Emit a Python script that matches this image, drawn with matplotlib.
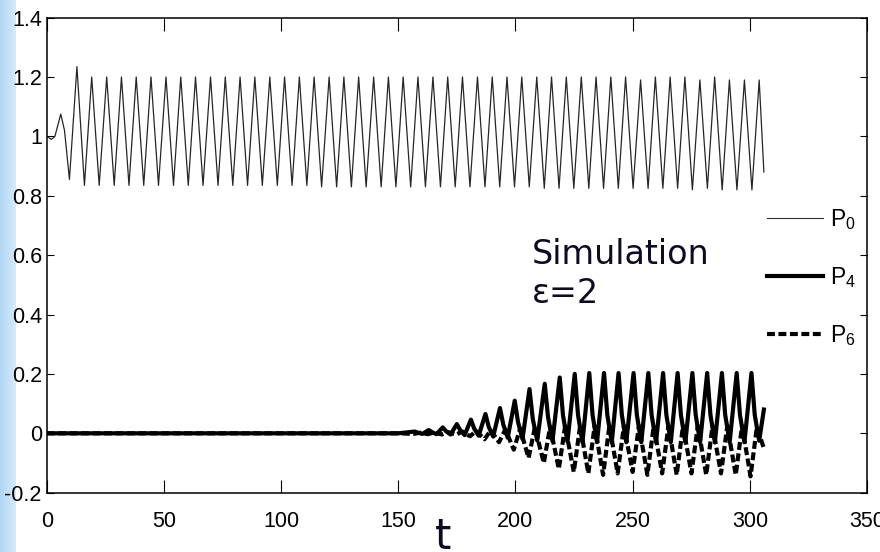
import numpy as np
import matplotlib
matplotlib.use("Agg")
import matplotlib.pyplot as plt
from matplotlib.lines import Line2D
from matplotlib.colors import LinearSegmentedColormap

# ---------------- data ----------------
# P0: start, then alternating peaks / troughs
p0_start_t = [0.0, 2.0, 3.5, 6.0, 7.6, 9.7]
p0_start_v = [1.0, 0.99, 1.0, 1.075, 1.02, 0.855]

p0_peak_t = [12.9, 19.2, 25.6, 31.9, 38.2, 44.5, 50.9, 57.2, 63.5, 69.9,
             76.2, 82.5, 88.8, 95.2, 101.5, 107.8, 114.1, 120.5, 126.8, 133.1,
             139.5, 145.8, 152.1, 158.4, 164.8, 171.1, 177.4, 183.8, 190.1, 196.4,
             202.7, 209.1, 215.4, 221.7, 228.1, 234.4, 240.7, 247.0, 253.4, 259.7,
             266.0, 272.3, 278.7, 285.0, 291.3, 297.7, 304.0]
p0_peak_v = [1.235, 1.20, 1.20, 1.20, 1.20, 1.20, 1.20, 1.20, 1.20, 1.20,
             1.20, 1.20, 1.20, 1.20, 1.20, 1.20, 1.20, 1.20, 1.20, 1.20,
             1.20, 1.20, 1.20, 1.20, 1.20, 1.20, 1.20, 1.20, 1.20, 1.20,
             1.20, 1.20, 1.20, 1.20, 1.20, 1.20, 1.20, 1.20, 1.19, 1.20,
             1.20, 1.20, 1.19, 1.20, 1.19, 1.19, 1.19]
p0_trough_t = [16.1, 22.4, 28.8, 35.1, 41.4, 47.7, 54.1, 60.4, 66.7, 73.1,
               79.4, 85.7, 92.0, 98.4, 104.7, 111.0, 117.3, 123.7, 130.0, 136.3,
               142.7, 149.0, 155.3, 161.6, 168.0, 174.3, 180.6, 187.0, 193.3, 199.6,
               205.9, 212.3, 218.6, 224.9, 231.3, 237.6, 243.9, 250.2, 256.6, 262.9,
               269.2, 275.5, 281.9, 288.2, 294.5, 300.9]
p0_trough_v = [0.835, 0.835, 0.835, 0.835, 0.835, 0.835, 0.835, 0.835, 0.835, 0.835,
               0.835, 0.835, 0.835, 0.835, 0.835, 0.835, 0.83, 0.83, 0.83, 0.83,
               0.83, 0.83, 0.83, 0.83, 0.83, 0.83, 0.83, 0.83, 0.83, 0.83,
               0.83, 0.825, 0.825, 0.825, 0.825, 0.825, 0.825, 0.825, 0.825, 0.825,
               0.825, 0.82, 0.825, 0.82, 0.82, 0.82]
p0_end_t = [306.0]
p0_end_v = [0.88]

# P4: flat, then peak / shoulder / trough per cycle
p4_flat_t = [0.0, 150.0]
p4_flat_v = [0.0, 0.0]
p4_peak_t = [157.0, 163.0, 169.0, 175.0, 181.0, 187.2, 193.4, 199.7, 206.0, 212.5,
             218.9, 225.3, 231.5, 237.8, 244.0, 250.4, 256.7, 263.0, 269.2, 275.5,
             281.8, 288.1, 294.4, 300.7]
p4_peak_v = [0.006, 0.011, 0.020, 0.031, 0.046, 0.065, 0.085, 0.110, 0.149, 0.167,
             0.188, 0.200, 0.203, 0.203, 0.203, 0.203, 0.203, 0.203, 0.203, 0.203,
             0.203, 0.203, 0.203, 0.203]
p4_shoulder_t = [158.4, 164.4, 170.4, 176.4, 182.4, 188.6, 194.8, 201.1, 207.4, 213.9,
                 220.3, 226.7, 232.9, 239.2, 245.4, 251.8, 258.1, 264.4, 270.6, 276.9,
                 283.2, 289.5, 295.8, 302.1]
p4_shoulder_v = [0.002, 0.004, 0.007, 0.011, 0.016, 0.022, 0.030, 0.038, 0.048, 0.055,
                 0.060, 0.062, 0.062, 0.062, 0.062, 0.062, 0.062, 0.062, 0.062, 0.062,
                 0.062, 0.062, 0.062, 0.062]
p4_trough_t = [160.3, 166.3, 172.3, 178.3, 184.3, 190.5, 196.7, 203.0, 209.3, 215.8,
               222.2, 228.6, 234.8, 241.1, 247.3, 253.7, 260.0, 266.3, 272.5, 278.8,
               285.1, 291.4, 297.7, 304.0]
p4_trough_v = [-0.002, -0.003, -0.004, -0.006, -0.008, -0.011, -0.015, -0.019, -0.024, -0.026,
               -0.028, -0.03, -0.03, -0.03, -0.03, -0.03, -0.03, -0.03, -0.03, -0.03,
               -0.03, -0.03, -0.03, -0.025]
p4_end_t = [306.0]
p4_end_v = [0.08]

# P6: flat, then minimum / maximum per cycle
p6_flat_t = [0.0, 150.0]
p6_flat_v = [0.0, 0.0]
p6_min_t = [156.6, 162.6, 168.6, 174.6, 180.6, 186.8, 193.0, 199.3, 205.6, 212.1,
            218.5, 224.9, 231.1, 237.4, 243.6, 250.0, 256.3, 262.6, 268.8, 275.1,
            281.4, 287.7, 294.0, 300.3]
p6_min_v = [-0.002, -0.003, -0.004, -0.005, -0.010, -0.020, -0.030, -0.055, -0.083, -0.100,
            -0.120, -0.130, -0.135, -0.140, -0.135, -0.130, -0.140, -0.135, -0.140, -0.135,
            -0.140, -0.135, -0.140, -0.145]
p6_max_t = [159.3, 165.3, 171.3, 177.3, 183.3, 189.5, 195.7, 202.0, 208.3, 214.8,
            221.2, 227.6, 233.8, 240.1, 246.3, 252.7, 259.0, 265.3, 271.5, 277.8,
            284.1, 290.4, 296.7, 303.0]
p6_max_v = [0.002, 0.003, 0.004, 0.006, 0.008, 0.010, 0.013, 0.016, 0.020, 0.022,
            0.024, 0.025, 0.025, 0.025, 0.025, 0.025, 0.025, 0.025, 0.025, 0.025,
            0.025, 0.025, 0.025, 0.020]
p6_end_t = [306.0]
p6_end_v = [-0.05]

x_ticks = [0, 50, 100, 150, 200, 250, 300, 350]
y_ticks = [-0.2, 0, 0.2, 0.4, 0.6, 0.8, 1, 1.2, 1.4]
y_tick_labels = ["-0.2", "0", "0.2", "0.4", "0.6", "0.8", "1", "1.2", "1.4"]
legend_labels = [r"$\mathregular{P_0}$", r"$\mathregular{P_4}$", r"$\mathregular{P_6}$"]


def merge(*pairs):
    t = []
    v = []
    for tt, vv in pairs:
        t += list(tt)
        v += list(vv)
    order = np.argsort(t, kind="stable")
    return np.asarray(t)[order], np.asarray(v)[order]


t0, v0 = merge((p0_start_t, p0_start_v), (p0_peak_t, p0_peak_v),
               (p0_trough_t, p0_trough_v), (p0_end_t, p0_end_v))
t4, v4 = merge((p4_flat_t, p4_flat_v), (p4_peak_t, p4_peak_v),
               (p4_shoulder_t, p4_shoulder_v), (p4_trough_t, p4_trough_v),
               (p4_end_t, p4_end_v))
t6, v6 = merge((p6_flat_t, p6_flat_v), (p6_min_t, p6_min_v),
               (p6_max_t, p6_max_v), (p6_end_t, p6_end_v))

# ---------------- figure ----------------
plt.rcParams["font.family"] = ["Liberation Sans", "DejaVu Sans"]
plt.rcParams["mathtext.fontset"] = "custom"

fig = plt.figure(figsize=(8.8, 5.52), dpi=100)
fig.patch.set_facecolor("white")

# light blue strip on the left edge
strip = fig.add_axes([0, 0, 16 / 880, 1])
cmap = LinearSegmentedColormap.from_list("strip", ["#b0d5f4", "#d8ebfb"])
strip.imshow(np.linspace(0, 1, 50)[None, :], aspect="auto", cmap=cmap,
             extent=[0, 1, 0, 1])
strip.set_axis_off()

ax = fig.add_axes([46.7 / 880, 1 - 492.7 / 552, (867 - 46.7) / 880, (492.7 - 17.6) / 552])

lw_thick = 3.0
ax.plot(t0, v0, color="#262626", lw=0.9, solid_joinstyle="round")
ax.plot(t6, v6, color="black", lw=lw_thick, linestyle=(0, (1.9, 0.85)))
ax.plot(t4, v4, color="black", lw=lw_thick, solid_joinstyle="round")

ax.set_xlim(0, 350)
ax.set_ylim(-0.2, 1.4)
ax.set_xticks(x_ticks)
ax.set_yticks(y_ticks)
ax.set_yticklabels(y_tick_labels)
for s in ax.spines.values():
    s.set_linewidth(1.1)
ax.tick_params(axis="x", direction="in", length=9.5, width=0.8, top=True,
               labelsize=15.5, pad=13)
ax.tick_params(axis="y", direction="in", length=5, width=0.8, right=True,
               labelsize=15.5, pad=3.5)

handles = [Line2D([], [], color="#303030", lw=0.8),
           Line2D([], [], color="black", lw=lw_thick),
           Line2D([], [], color="black", lw=lw_thick, linestyle=(0, (1.9, 0.85)))]
ax.legend(handles, legend_labels, loc="upper left", bbox_to_anchor=(0.878, 0.602),
          frameon=False, fontsize=16.5, handlelength=2.45, handletextpad=0.3,
          labelspacing=1.45, borderpad=0, borderaxespad=0)

txt_color = "#0b0b22"
fig.text(532 / 880, 1 - 264 / 552, "Simulation", fontsize=24,
         family=["DejaVu Sans Condensed", "DejaVu Sans"], color=txt_color,
         ha="left", va="baseline")
fig.text(532 / 880, 1 - 303 / 552, "ε=2", fontsize=24,
         family=["DejaVu Sans Condensed", "DejaVu Sans"], color=txt_color,
         ha="left", va="baseline")
fig.text(443 / 880, 1 - 549 / 552, "t", fontsize=30,
         family=["DejaVu Sans Condensed", "DejaVu Sans"], color=txt_color,
         ha="center", va="baseline")

fig.savefig("out.png", dpi=100, facecolor="white")
